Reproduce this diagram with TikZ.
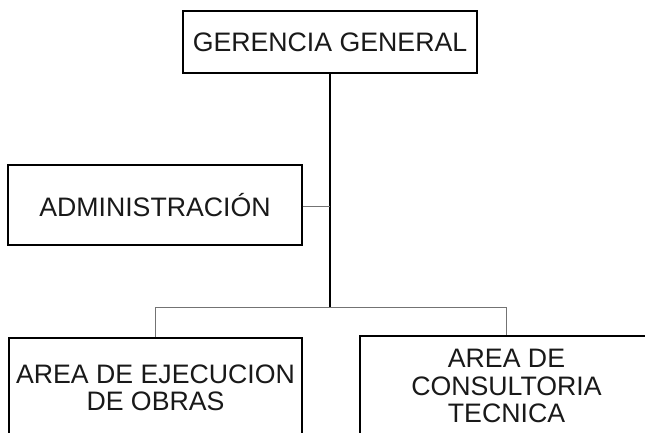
\documentclass[tikz,border=0pt]{standalone}
\usepackage{fontspec}
\setmainfont{Liberation Sans}
\begin{document}
\begin{tikzpicture}[x=1bp,y=-1bp,
  box/.style={draw=black,line width=1.3bp,rectangle,inner sep=0pt,align=center,
    font=\fontsize{26.8}{27.5}\selectfont,text=black!90},
  trunk/.style={draw=black,line width=1.6bp},
  conn/.style={draw=black!55,line width=0.9bp}]
\useasboundingbox (0,0) rectangle (645,432);
\clip (0,0) rectangle (645,432);
\node[box,minimum width=294bp,minimum height=62bp] (gg) at (330,42) {GERENCIA GENERAL};
\node[box,minimum width=294bp,minimum height=80bp] (adm) at (155,205) {ADMINISTRACIÓN};
\node[box,minimum width=293bp,minimum height=100bp] (obras) at (155.5,388) {AREA DE EJECUCION\\DE OBRAS};
\node[box,minimum width=293bp,minimum height=100bp] (cons) at (506.5,386) {AREA DE\\CONSULTORIA\\TECNICA};
\coordinate (j) at (330,307);
\coordinate (ja) at (330,206);
\draw[trunk] (gg.south) -- (j);
\draw[conn] (adm.east |- ja) -- (ja);
\draw[conn] (obras.north) |- (j) -| (cons.north);
\end{tikzpicture}
\end{document}
